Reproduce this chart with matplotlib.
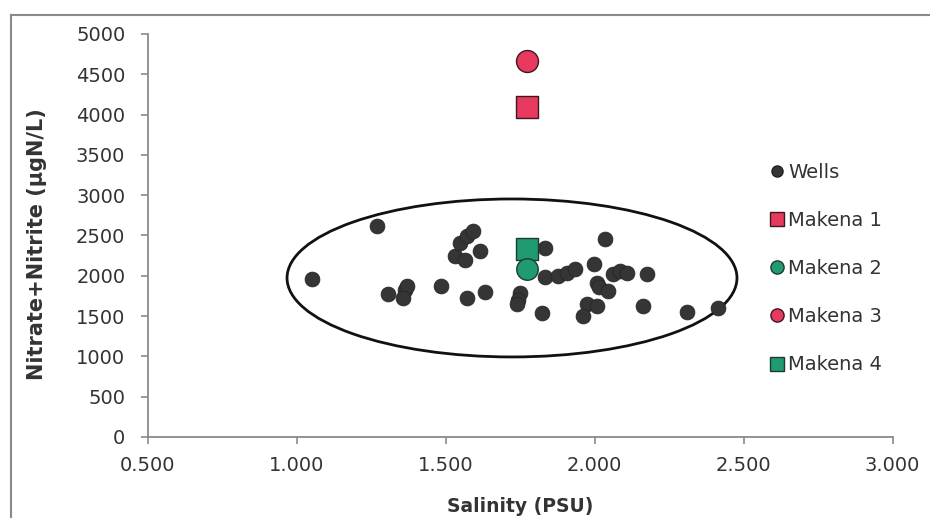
import matplotlib
matplotlib.use("Agg")
import matplotlib.pyplot as plt
from matplotlib.patches import Ellipse
from matplotlib.lines import Line2D

plt.rcParams['font.family'] = ['DejaVu Sans']

wells_x = [1.051, 1.269, 1.306, 1.364, 1.369, 1.358, 1.484, 1.532, 1.548, 1.571,
           1.593, 1.565, 1.615, 1.571, 1.632, 1.750, 1.744, 1.739, 1.834, 1.834,
           1.822, 1.878, 1.906, 1.934, 1.998, 2.036, 2.007, 2.015, 2.046, 1.974,
           2.007, 1.962, 2.063, 2.085, 2.108, 2.175, 2.163, 2.309, 2.415]
wells_y = [1960, 2620, 1770, 1820, 1870, 1720, 1870, 2250, 2410, 2490,
           2550, 2190, 2310, 1730, 1800, 1790, 1700, 1650, 2350, 1985,
           1540, 1995, 2040, 2080, 2150, 2460, 1910, 1860, 1810, 1650,
           1620, 1500, 2020, 2060, 2030, 2020, 1625, 1550, 1600]

makena1 = (1.772, 4100)
makena2 = (1.772, 2080)
makena3 = (1.772, 4660)
makena4 = (1.772, 2330)

ellipse_center = (1.723, 1973)
ellipse_w = 1.51
ellipse_h = 1960

xticks = [0.5, 1.0, 1.5, 2.0, 2.5, 3.0]
yticks = [0, 500, 1000, 1500, 2000, 2500, 3000, 3500, 4000, 4500, 5000]

fig = plt.figure(figsize=(9.3, 5.18), dpi=100)
ax = fig.add_axes([0.1587, 0.1564, 0.8010, 0.7780])

red = '#e8395e'
green = '#1f9a72'
dark = '#353535'

ax.scatter(wells_x, wells_y, s=115, color=dark, edgecolor='#222222', linewidth=0.5, zorder=3)
ax.scatter([makena1[0]], [makena1[1]], s=240, marker='s', color=red, edgecolor='#3a1a20', linewidth=1.0, zorder=4)
ax.scatter([makena3[0]], [makena3[1]], s=250, marker='o', color=red, edgecolor='#3a1a20', linewidth=1.0, zorder=4)
ax.scatter([makena4[0]], [makena4[1]], s=230, marker='s', color=green, edgecolor='#1f3a30', linewidth=1.0, zorder=4)
ax.scatter([makena2[0]], [makena2[1]], s=240, marker='o', color=green, edgecolor='#1f3a30', linewidth=1.0, zorder=4)

ell = Ellipse(ellipse_center, ellipse_w, ellipse_h, fill=False, edgecolor='#111111', linewidth=2.0, zorder=2)
ax.add_patch(ell)

ax.set_xlim(0.5, 3.0)
ax.set_ylim(0, 5000)
ax.set_xticks(xticks)
ax.set_xticklabels([f"{v:.3f}" for v in xticks])
ax.set_yticks(yticks)
ax.set_yticklabels([str(v) for v in yticks])
for s in ['top', 'right']:
    ax.spines[s].set_visible(False)
for s in ['left', 'bottom']:
    ax.spines[s].set_color('#8a8a8a')
    ax.spines[s].set_linewidth(1.3)
ax.tick_params(axis='both', direction='out', length=5, color='#8a8a8a', labelsize=14, labelcolor='#333333', width=1.2)
ax.tick_params(axis='x', pad=9)
ax.tick_params(axis='y', pad=11)

ax.set_xlabel('Salinity (PSU)', fontsize=13.5, fontweight='bold', color='#333333')
ax.set_ylabel('Nitrate+Nitrite (µgN/L)', fontsize=15, fontweight='bold', color='#333333')
ax.xaxis.set_label_coords(0.500, -0.148)
ax.yaxis.set_label_coords(-0.135, 0.479)

handles = [
    Line2D([], [], marker='o', linestyle='none', markersize=8, markerfacecolor=dark, markeredgecolor='#222222', label='Wells'),
    Line2D([], [], marker='s', linestyle='none', markersize=10, markerfacecolor=red, markeredgecolor='#3a1a20', label='Makena 1'),
    Line2D([], [], marker='o', linestyle='none', markersize=9.5, markerfacecolor=green, markeredgecolor='#1f3a30', label='Makena 2'),
    Line2D([], [], marker='o', linestyle='none', markersize=9.5, markerfacecolor=red, markeredgecolor='#3a1a20', label='Makena 3'),
    Line2D([], [], marker='s', linestyle='none', markersize=10, markerfacecolor=green, markeredgecolor='#1f3a30', label='Makena 4'),
]
leg = ax.legend(handles=handles, loc='upper left', bbox_to_anchor=(0.822, 0.70), frameon=False,
                fontsize=14, labelspacing=1.5, handletextpad=0.05, handlelength=1.0, borderaxespad=0)
for t in leg.get_texts():
    t.set_color('#333333')

# outer chart border
fig.add_artist(Line2D([11/930, 1.0], [1 - 15/518, 1 - 15/518], transform=fig.transFigure, color='#8a8a8a', linewidth=1.5))
fig.add_artist(Line2D([11/930, 11/930], [0.0, 1 - 15/518], transform=fig.transFigure, color='#8a8a8a', linewidth=1.5))

fig.savefig('out.png', dpi=100)
